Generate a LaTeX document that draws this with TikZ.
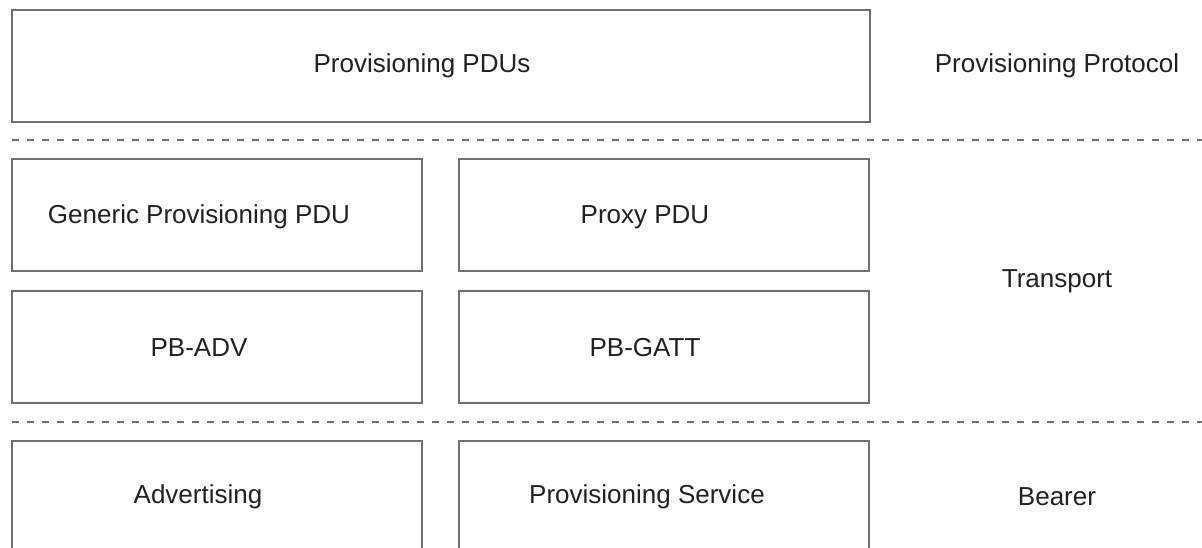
\documentclass[tikz,border=0pt]{standalone}
\usepackage{fontspec}
\setmainfont{Liberation Sans}
\definecolor{framegray}{HTML}{707070}
\definecolor{inkgray}{HTML}{222222}
\begin{document}
\begin{tikzpicture}[x=1pt,y=-1pt,
  layerbox/.style={draw=framegray,line width=1.6pt,minimum height=112pt,inner sep=0pt,rectangle},
  wide/.style={layerbox,minimum width=858pt},
  half/.style={layerbox,minimum width=410pt},
  caption/.style={inner sep=0pt,anchor=base,text=inkgray,font=\fontsize{26}{30}\selectfont},
  divider/.style={draw=framegray,line width=1.6pt,dash pattern=on 7pt off 8pt}]
\useasboundingbox (0,0) rectangle (1202,548);
\clip (0,0) rectangle (1202,548);

% layer boxes
\node[wide] (pdus) at (441,66) {};
\node[half] (generic) at (217,215) {};
\node[half] (proxy) at (664,215) {};
\node[half] (pbadv) at (217,347) {};
\node[half] (pbgatt) at (664,347) {};
\node[half] (adv) at (217,497) {};
\node[half] (provsvc) at (664,497) {};

% box captions
\node[caption] (tpdus) at (422,73) {Provisioning PDUs};
\node[caption] (tgeneric) at (199,223) {Generic Provisioning PDU};
\node[caption] (tproxy) at (645,223) {Proxy PDU};
\node[caption] (tpbadv) at (199,356) {PB-ADV};
\node[caption] (tpbgatt) at (645,356) {PB-GATT};
\node[caption] (tadv) at (198,503) {Advertising};
\node[caption] (tprovsvc) at (647,503) {Provisioning Service};

% layer names
\node[caption] (lproto) at (1057,73) {Provisioning Protocol};
\node[caption] (ltransport) at (1057,287) {Transport};
\node[caption] (lbearer) at (1057,505) {Bearer};

% layer dividers
\coordinate (d1a) at (12,140);
\coordinate (d1b) at (1202,140);
\coordinate (d2a) at (12,422);
\coordinate (d2b) at (1202,422);
\draw[divider] (d1a) -- (d1b);
\draw[divider] (d2a) -- (d2b);
\end{tikzpicture}
\end{document}
